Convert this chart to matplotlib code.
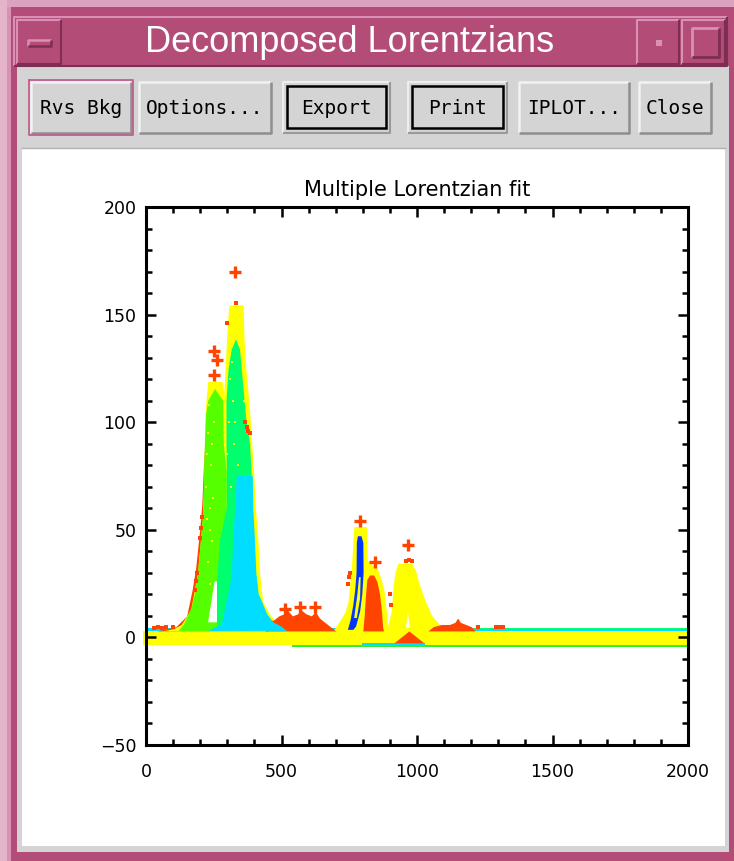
import matplotlib
matplotlib.use('Agg')
import matplotlib.pyplot as plt
from matplotlib.ticker import MultipleLocator

# ---- data ----
# data points (red '+'), the large crosses
cross_x = [252, 261, 252, 328, 788, 845, 967, 513, 568, 624]
cross_y = [133, 129, 122, 170, 54, 35, 43, 13, 14, 14]
# small data dots left outside the fitted curves
dot_x = [30, 45, 60, 75, 100, 199, 203, 207, 180, 185, 190, 365, 372, 378, 384, 300,
         746, 750, 753, 902, 904, 1292, 1305, 1316, 1225, 331, 960, 970, 980]
dot_y = [4.5, 5, 4.5, 5, 5, 46, 51, 56, 22, 26, 30, 100, 98, 96, 95, 146,
         25, 28, 30, 20, 15, 5, 5, 5, 5, 155.5, 35.5, 36, 35.5]

# dense data regions (drawn as solid red)
data_a_x = [40, 110, 150, 170, 183, 198, 206, 212, 220, 330, 384, 390, 398, 410, 430, 450]
data_a_y = [3, 5, 10, 22, 32, 50, 62, 80, 95, 95, 95, 85, 60, 30, 10, 3]
data_b_x = [440, 450, 470, 490, 510, 520, 540, 560, 570, 590, 610, 625, 640, 660, 680, 700]
data_b_y = [3, 8, 8, 10, 11, 13, 10, 11, 13, 11, 10, 12, 9, 7, 5, 3]
data_c_x = [800, 805, 810, 815, 825, 840, 852, 862, 869, 873, 876]
data_c_y = [3, 10, 20, 27, 29, 29, 26, 20, 12, 5, 3]
data_d_x = [1040, 1060, 1090, 1120, 1140, 1150, 1160, 1180, 1200, 1215]
data_d_y = [3, 5, 6, 6, 7, 9, 7, 6, 5, 3]
data_e_x = [915, 945, 970, 995, 1025]
data_e_y = [-2.5, 0.5, 3, 0.5, -2.5]

# total fit (yellow)
fit1_x = [60, 100, 130, 165, 190, 208, 212, 216, 221, 228, 280, 287, 293, 300, 306,
          358, 362, 368, 375, 384, 390, 398, 404, 413, 419, 430, 455, 480, 520]
fit1_y = [3, 4, 6, 13, 30, 55, 70, 92, 110, 119, 119, 113, 128, 145, 154.5,
          154.5, 138, 125, 116, 102, 90, 75, 60, 45, 30, 17, 11, 7, 3]
fit2_x = [690, 716, 735, 746, 758, 767, 814, 816, 830, 850, 865, 878, 887, 893]
fit2_y = [3, 8, 12, 17, 33, 51.5, 51.5, 36, 34, 33, 28, 22, 12, 3]
fit3_x = [888, 897, 905, 912, 920, 930, 980, 995, 1010, 1030, 1055, 1090, 1120]
fit3_y = [3, 8, 12, 24, 31, 34.5, 34.5, 31, 24, 17, 10, 5, 3]

# Lorentzian components
lime_x = [120, 140, 169, 180, 192, 205, 212, 215, 218, 221, 230, 255, 262, 285, 287, 298, 298, 300, 300]
lime_y = [3, 6, 14, 20, 30, 48, 61, 80, 92, 103, 110, 115.5, 114, 110, 90, 76, 60, 40, 3]
gap_x = [229, 253, 262, 262]
gap_y = [7, 26, 26, 7]
spring_x = [262, 262, 273, 298, 298, 297, 297, 305, 316, 332, 347, 358, 369, 384, 390, 390, 380]
spring_y = [4, 26, 45, 60, 76, 90, 110, 125, 133.6, 138.5, 133.6, 118, 102.6, 90, 75, 40, 3]
cyan_x = [230, 262, 280, 298, 310, 317, 322, 330, 335, 394, 396, 402, 407, 416, 427, 446, 470, 500, 520]
cyan_y = [3, 5, 6, 17, 24, 30, 45, 62, 75, 75, 60, 45, 30, 20, 17, 11, 7, 5, 3]
blue_x = [745, 755, 765, 772, 777, 778, 782, 795, 802, 803, 798, 790, 775, 765]
blue_y = [3.5, 8, 15, 22, 30, 44, 47, 47, 44, 30, 20, 12, 5, 3.5]
blue_in_x = [768, 780, 786, 792, 790, 778]
blue_in_y = [9, 20, 28, 28, 18, 9]
notch_x = [960, 966, 974]
notch_y = [4.5, 12, 4.5]

# yellow symbols seen through the green components
ydot_x = [230, 240, 235, 250, 222, 245, 228, 238, 226, 248, 232, 243, 236, 226,
          310, 320, 330, 325, 340, 315, 335, 345, 352, 348, 305, 300, 318, 360]
ydot_y = [95, 80, 60, 100, 70, 45, 35, 25, 85, 65, 108, 90, 50, 55,
          120, 110, 100, 90, 80, 70, 60, 45, 30, 55, 100, 85, 128, 110]

btn_labels = ['Rvs Bkg', 'Options...', 'Export', 'Print', 'IPLOT...', 'Close']

RED = '#FF4400'
LIME = '#55FF00'
SPRING = '#00FF6E'
CYAN = '#00DDFF'
BLUE = '#0036FF'
YELLOW = '#FFFF00'
PINK = '#B44C78'
PINK_HI = '#D890B4'
PINK_LO = '#7E2E52'
GRAY = '#D4D4D4'

W, H = 734, 861
fig = plt.figure(figsize=(W / 100, H / 100), dpi=100)

# ---- window chrome ----
bg = fig.add_axes([0, 0, 1, 1])
bg.set_xlim(0, W)
bg.set_ylim(H, 0)
bg.axis('off')


def rect(x0, y0, x1, y1, color, z=1):
    bg.fill([x0, x1, x1, x0], [y0, y0, y1, y1], color=color, lw=0, zorder=z)


def bevel(x0, y0, x1, y1, hi, lo, lw=1.5, z=3):
    bg.plot([x0, x0, x1], [y1, y0, y0], color=hi, lw=lw, solid_capstyle='butt', zorder=z)
    bg.plot([x0, x1, x1], [y1, y1, y0], color=lo, lw=lw, solid_capstyle='butt', zorder=z)


rect(0, 0, W, H, PINK)
rect(0, 0, W, 7, '#DCA3C0')
rect(0, 0, 7, H, '#E4B4CA')
rect(7, 7, 11, H, PINK_HI)

# title bar
bevel(14, 17, 727, 66, PINK_HI, PINK_LO)
bevel(17, 20, 61, 64, PINK_HI, PINK_LO)
bevel(28, 40, 51, 46, PINK_HI, PINK_LO, lw=1.8)
bevel(637, 20, 679, 64, PINK_HI, PINK_LO)
bevel(682, 20, 725, 64, PINK_HI, PINK_LO)
rect(656, 40, 662, 46, PINK_HI, z=4)
bevel(692, 28, 719, 57, PINK_HI, PINK_LO, lw=2)
bg.text(350, 43, 'Decomposed Lorentzians', color='white', fontsize=26,
        family='Liberation Sans', ha='center', va='center', zorder=5)

# toolbar and drawing area
rect(17, 66, 729, 852, GRAY, z=2)
rect(22, 148, 725, 846, 'white', z=2)
bg.plot([22, 725], [147.5, 147.5], color='#B0B0B0', lw=1, zorder=3)

btn_x = [(31, 131), (139, 271), (287, 386), (412, 503), (519, 629), (639, 711)]
for (x0, x1), lab in zip(btn_x, btn_labels):
    if lab in ('Export', 'Print'):
        bevel(x0 - 4, 82, x1 + 4, 133, '#EEEEEE', '#9A9A9A')
        bg.fill([x0, x1, x1, x0, x0], [86, 86, 128, 128, 86], facecolor=GRAY,
                edgecolor='black', lw=1.8, zorder=4)
    else:
        bevel(x0, 82, x1, 133, '#F2F2F2', '#8E8E8E', lw=1.8)
        if lab == 'Rvs Bkg':
            bg.plot([x0 - 2, x1 + 2, x1 + 2, x0 - 2, x0 - 2], [80, 80, 135, 135, 80],
                    color='#C0608E', lw=1.3, zorder=4)
    bg.text((x0 + x1) / 2, 108, lab, fontsize=14, family='DejaVu Sans Mono',
            ha='center', va='center', color='black', zorder=5)

# ---- plot ----
ax = fig.add_axes([146 / W, 1 - 745 / H, (688 - 146) / W, (745 - 207) / H])
ax.set_xlim(0, 2000)
ax.set_ylim(-50, 200)

# baseline band
ax.fill_between([-12, 2008], -3.5, 3, color=YELLOW, lw=0, zorder=1, clip_on=False)
ax.fill_between([0, 2000], 3, 4.3, color=CYAN, lw=0, zorder=1)
ax.fill_between([1096, 2000], 3.8, 4.6, color=SPRING, lw=0, zorder=1)
ax.fill_between([538, 2000], -4.6, -3.5, color='#33EE33', lw=0, zorder=1)
ax.fill_between([796, 1030], -3.5, -2.5, color=CYAN, lw=0, zorder=1)

# data hidden under the fit
ax.fill_between(data_a_x, 3, data_a_y, color=RED, lw=0, zorder=2)

# total fit
ax.fill_between(fit1_x, 3, fit1_y, color=YELLOW, lw=0, zorder=3)
ax.fill_between(fit2_x, 3, fit2_y, color=YELLOW, lw=0, zorder=3)
ax.fill_between(fit3_x, 3, fit3_y, color=YELLOW, lw=0, zorder=3)

# other data regions
ax.fill_between(data_b_x, 3, data_b_y, color=RED, lw=0, zorder=4)
ax.fill_between(data_c_x, 3, data_c_y, color=RED, lw=0, zorder=4)
ax.fill_between(data_d_x, 3, data_d_y, color=RED, lw=0, zorder=4)
ax.fill_between(data_e_x, -2.5, data_e_y, color=RED, lw=0, zorder=4)
ax.fill(notch_x, notch_y, color='white', lw=0, zorder=4.5)

# components
ax.fill(lime_x, lime_y, color=LIME, lw=0, zorder=5)
ax.fill(gap_x, gap_y, color='white', lw=0, zorder=5.5)
ax.fill(spring_x, spring_y, color=SPRING, lw=0, zorder=6)
ax.plot(ydot_x, ydot_y, 's', color=YELLOW, ms=1.8, mew=0, zorder=6.5)
ax.fill(cyan_x, cyan_y, color=CYAN, lw=0, zorder=7)
ax.fill(blue_x, blue_y, color=BLUE, lw=0, zorder=8)
ax.fill(blue_in_x, blue_in_y, color=YELLOW, lw=0, zorder=8.5)

# data symbols
ax.plot(dot_x, dot_y, 's', color=RED, ms=2.2, mew=0, zorder=9)
ax.plot(cross_x, cross_y, '+', color=RED, ms=8, mew=2.4, zorder=9)

for s in ax.spines.values():
    s.set_linewidth(2.2)
    s.set_zorder(10)
ax.xaxis.set_major_locator(MultipleLocator(500))
ax.xaxis.set_minor_locator(MultipleLocator(100))
ax.yaxis.set_major_locator(MultipleLocator(50))
ax.yaxis.set_minor_locator(MultipleLocator(10))
ax.tick_params(which='both', direction='in', top=True, right=True, width=1.8,
               labelsize=12.5)
ax.tick_params(which='major', length=7)
ax.tick_params(which='minor', length=4)
ax.tick_params(axis='x', pad=13)
ax.tick_params(axis='y', pad=7)
ax.set_title('Multiple Lorentzian fit', fontsize=15, pad=8)

fig.savefig('out.png', dpi=100)
